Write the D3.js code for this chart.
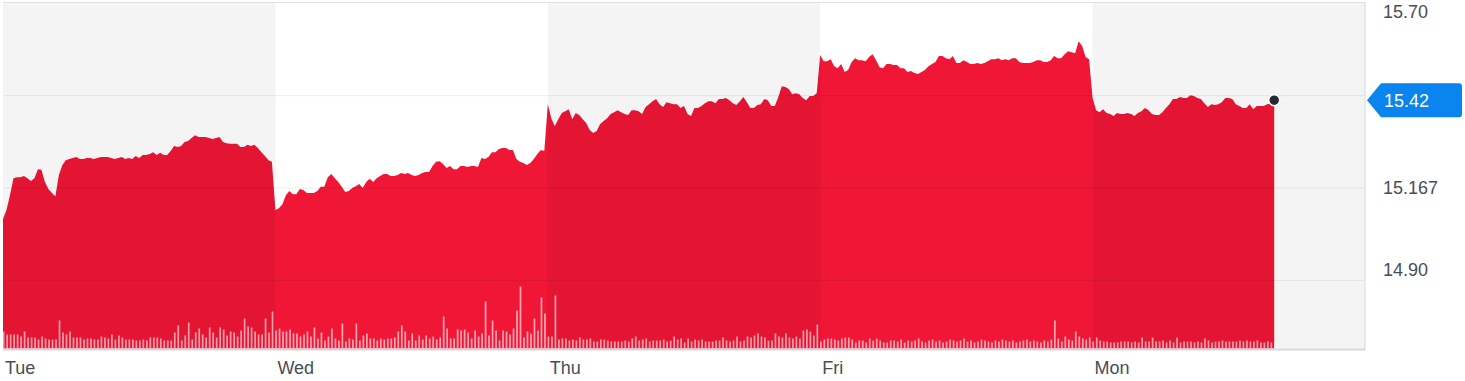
<!DOCTYPE html>
<html>
<head>
<meta charset="utf-8">
<script src="https://cdn.jsdelivr.net/npm/d3@7"></script>
<style>
body{margin:0;background:#fff;}
text{font-family:"Helvetica Neue",Arial,"Liberation Sans",sans-serif;}
</style>
</head>
<body>
<div id="container"></div>
<script>
// one session per day, 5-minute slots
let days = ["Tue","Wed","Thu","Fri","Mon"];
let slotsPerDay = 78;

let tuePrice = [15.077,15.103,15.146,15.195,15.198,15.198,15.201,15.195,15.187,15.195,
	15.221,15.219,15.184,15.164,15.152,15.143,15.204,15.233,15.247,15.250,
	15.253,15.256,15.250,15.250,15.253,15.253,15.250,15.253,15.256,15.256,
	15.256,15.253,15.250,15.253,15.256,15.250,15.253,15.250,15.259,15.253,
	15.262,15.262,15.265,15.270,15.262,15.268,15.262,15.262,15.273,15.288,
	15.285,15.288,15.299,15.302,15.311,15.319,15.314,15.314,15.314,15.311,
	15.308,15.311,15.314,15.299,15.296,15.294,15.294,15.294,15.285,15.285,
	15.291,15.288,15.291,15.282,15.270,15.259,15.247,15.242];
let wedPrice = [15.103,15.108,15.120,15.146,15.158,15.149,15.149,15.164,15.161,15.152,
	15.152,15.152,15.158,15.170,15.170,15.198,15.207,15.195,15.184,15.170,
	15.155,15.158,15.167,15.172,15.178,15.167,15.184,15.193,15.184,15.195,
	15.201,15.207,15.207,15.201,15.201,15.204,15.210,15.207,15.210,15.204,
	15.201,15.204,15.210,15.213,15.213,15.230,15.242,15.244,15.236,15.224,
	15.230,15.221,15.221,15.230,15.230,15.227,15.230,15.230,15.227,15.253,
	15.250,15.256,15.270,15.270,15.279,15.282,15.282,15.276,15.276,15.250,
	15.242,15.239,15.233,15.239,15.250,15.265,15.276,15.273];
let thuPrice = [15.408,15.368,15.345,15.365,15.383,15.388,15.394,15.365,15.383,15.377,
	15.365,15.354,15.334,15.325,15.331,15.351,15.360,15.368,15.380,15.385,
	15.391,15.385,15.380,15.377,15.391,15.391,15.388,15.380,15.400,15.408,
	15.417,15.423,15.408,15.400,15.414,15.411,15.408,15.408,15.397,15.403,
	15.380,15.374,15.397,15.397,15.403,15.411,15.417,15.417,15.411,15.423,
	15.423,15.426,15.420,15.411,15.406,15.417,15.429,15.414,15.397,15.397,
	15.406,15.408,15.423,15.420,15.403,15.403,15.429,15.460,15.458,15.452,
	15.437,15.440,15.437,15.426,15.420,15.432,15.432,15.440];
let friPrice = [15.550,15.532,15.532,15.538,15.518,15.512,15.524,15.501,15.507,15.530,
	15.541,15.535,15.535,15.532,15.544,15.552,15.535,15.515,15.512,15.524,
	15.524,15.521,15.521,15.512,15.512,15.501,15.504,15.498,15.495,15.501,
	15.507,15.518,15.524,15.530,15.547,15.547,15.541,15.538,15.547,15.527,
	15.527,15.535,15.530,15.524,15.524,15.527,15.524,15.527,15.532,15.538,
	15.538,15.541,15.535,15.538,15.535,15.541,15.541,15.530,15.527,15.527,
	15.527,15.530,15.535,15.535,15.530,15.530,15.535,15.547,15.541,15.541,
	15.552,15.561,15.558,15.555,15.590,15.576,15.544,15.538];
let monPrice = [15.426,15.391,15.385,15.394,15.383,15.380,15.374,15.383,15.380,15.380,
	15.383,15.380,15.374,15.383,15.388,15.397,15.391,15.380,15.377,15.377,
	15.385,15.397,15.408,15.423,15.423,15.429,15.426,15.426,15.434,15.432,
	15.426,15.423,15.411,15.400,15.408,15.406,15.408,15.414,15.426,15.426,
	15.423,15.408,15.403,15.397,15.397,15.408,15.394,15.403,15.403,15.403,
	15.408,15.411,15.420];

// volume, thousands of shares
let tueVol = [170,140,140,140,140,120,170,110,110,110,90,120,100,90,90,90,280,160,140,170,
	110,110,110,90,100,100,90,90,120,110,100,140,90,130,110,90,90,90,80,80,
	90,80,110,110,110,100,80,80,80,160,230,80,130,260,90,160,200,140,110,210,
	160,110,210,190,130,170,160,120,180,300,220,210,170,140,140,300,160,370];
let wedVol = [180,200,170,170,190,150,150,120,140,170,120,210,100,160,80,120,200,100,80,250,
	70,100,90,250,80,130,150,100,100,80,100,90,100,100,110,170,230,170,80,150,
	80,130,90,130,100,120,90,110,320,200,100,100,190,180,190,160,100,180,120,150,
	470,130,280,180,80,180,170,140,200,380,620,110,170,150,300,180,510,350];
let thuVol = [120,120,530,90,100,100,80,90,80,110,90,90,100,70,70,90,90,80,70,70,
	70,70,80,70,100,120,80,90,100,70,80,80,80,90,70,80,120,90,100,60,
	100,70,90,80,90,70,70,70,80,80,110,80,70,80,120,70,80,120,110,130,
	150,120,110,80,80,150,120,110,150,110,100,120,100,180,190,170,130,240];
let friVol = [70,90,100,100,90,80,100,110,110,90,60,80,80,60,100,80,100,80,60,60,
	80,80,70,90,60,80,70,80,100,70,60,80,90,70,80,60,70,90,80,70,
	80,100,70,80,60,70,90,80,70,60,80,70,90,80,70,80,60,70,80,90,
	70,80,70,60,80,70,90,280,100,70,120,90,80,170,120,100,90,110];
let monVol = [70,110,80,70,70,60,60,60,70,70,70,60,70,60,110,70,70,110,70,70,
	80,60,80,60,110,60,70,70,70,60,70,60,100,80,60,70,70,80,70,70,
	70,70,80,70,80,70,70,80,60,60,70,60,70];

let yTicks = [15.70, 15.433, 15.167, 14.90];
// the second tick's label sits under the last-price tag, so it is left blank
let yTickLabels = ["15.70", "", "15.167", "14.90"];
let lastPrice = 15.42;

let width = 1465, height = 381;
let plot = {left: 3, right: 1365, top: 3, bottom: 348.5};

let prices = [tuePrice, wedPrice, thuPrice, friPrice, monPrice];
let vols = [tueVol, wedVol, thuVol, friVol, monVol];
let series = [];
prices.forEach(function(arr, d){
	arr.forEach(function(p, k){
		series.push({i: d*slotsPerDay + k, p: p, v: vols[d][k]});
	});
});

let xScale = d3.scaleLinear().domain([0, days.length*slotsPerDay]).range([plot.left, plot.right]);
let yScale = d3.scaleLinear().domain([14.90, 15.70]).range([280.5, 3]);
let vScale = d3.scaleLinear().domain([0, 700]).range([plot.bottom, plot.bottom - 70]);

let svg = d3.select("#container").append("svg")
	.attr("width", width)
	.attr("height", height);

// price area
let area = d3.area()
	.x(d => xScale(d.i))
	.y0(plot.bottom)
	.y1(d => yScale(d.p));
svg.append("path")
	.datum(series)
	.attr("d", area)
	.attr("fill", "#ef1636");

// volume bars
svg.append("g").selectAll("rect")
	.data(series)
	.join("rect")
	.attr("x", d => xScale(d.i) - 0.2)
	.attr("width", 1.7)
	.attr("y", d => vScale(d.v))
	.attr("height", d => plot.bottom - vScale(d.v))
	.attr("fill", "rgba(255,255,255,0.62)");

// shaded sessions (every other day)
days.forEach(function(day, d){
	if (d % 2 === 0) {
		svg.append("rect")
			.attr("x", xScale(d*slotsPerDay))
			.attr("y", plot.top)
			.attr("width", xScale((d+1)*slotsPerDay) - xScale(d*slotsPerDay))
			.attr("height", plot.bottom - plot.top)
			.attr("fill", "rgba(0,0,0,0.045)");
	}
});

// grid lines
svg.append("g").selectAll("line")
	.data(yTicks.slice(1))
	.join("line")
	.attr("x1", plot.left)
	.attr("x2", plot.right)
	.attr("y1", d => yScale(d))
	.attr("y2", d => yScale(d))
	.attr("stroke", "rgba(0,0,0,0.06)")
	.attr("stroke-width", 1.2);

// frame
svg.append("line").attr("x1", plot.left).attr("x2", plot.right)
	.attr("y1", 2.5).attr("y2", 2.5).attr("stroke", "#dfe1e6").attr("stroke-width", 1);
svg.append("line").attr("x1", plot.right).attr("x2", plot.right)
	.attr("y1", 2).attr("y2", plot.bottom + 2).attr("stroke", "#d6d9e0").attr("stroke-width", 1);
svg.append("line").attr("x1", plot.left).attr("x2", plot.right)
	.attr("y1", plot.bottom + 1).attr("y2", plot.bottom + 1).attr("stroke", "#d3d6dd").attr("stroke-width", 2);

// day labels
svg.append("g").selectAll("text")
	.data(days)
	.join("text")
	.attr("x", (d, i) => xScale(i*slotsPerDay) + 2)
	.attr("y", 373.5)
	.attr("font-size", "18px")
	.attr("fill", "#464e56")
	.text(d => d);

// price axis labels
let labelShift = [9, 0, 0, -10.5];
svg.append("g").selectAll("text")
	.data(yTicks.filter((d, i) => yTickLabels[i] !== ""))
	.join("text")
	.attr("x", 1383)
	.attr("y", d => yScale(d) + labelShift[yTicks.indexOf(d)])
	.attr("dy", "0.36em")
	.attr("font-size", "18px")
	.attr("fill", "#464e56")
	.text(d => yTickLabels[yTicks.indexOf(d)]);

// last price tag
let ty = yScale(lastPrice);
svg.append("path")
	.attr("d", "M1367," + ty + " L1381," + (ty - 17) + " L1459," + (ty - 17) +
		" Q1462," + (ty - 17) + " 1462," + (ty - 14) + " L1462," + (ty + 14) +
		" Q1462," + (ty + 17) + " 1459," + (ty + 17) + " L1381," + (ty + 17) + " Z")
	.attr("fill", "#0a84ee");
svg.append("text")
	.attr("x", 1384)
	.attr("y", ty)
	.attr("dy", "0.36em")
	.attr("font-size", "18px")
	.attr("fill", "#fff")
	.text(lastPrice.toFixed(2));

// last point marker
let last = series[series.length - 1];
svg.append("circle")
	.attr("cx", xScale(last.i))
	.attr("cy", yScale(last.p))
	.attr("r", 5.5)
	.attr("fill", "#232a31")
	.attr("stroke", "#fff")
	.attr("stroke-width", 1.5);
</script>
</body>
</html>
